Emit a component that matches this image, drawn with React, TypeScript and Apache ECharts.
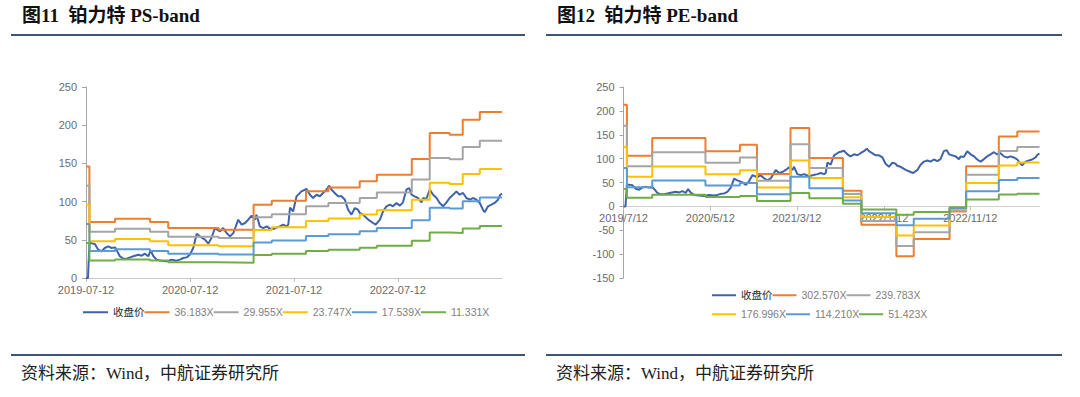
import React, { useEffect, useRef } from 'react';
import * as echarts from 'echarts';

// ---- closing price (shared by both charts) ----
const closeDates = [
  '2019-07-12','2019-07-19','2019-07-24','2019-08-12','2019-08-24','2019-09-05','2019-09-16','2019-09-28',
  '2019-10-10','2019-10-22','2019-10-28','2019-11-08','2019-11-20','2019-12-02','2019-12-14','2019-12-25',
  '2020-01-12','2020-01-24','2020-02-04','2020-02-16','2020-02-24','2020-03-05','2020-03-16','2020-04-03',
  '2020-04-20','2020-05-08','2020-05-25','2020-06-06','2020-06-18','2020-06-30','2020-07-11','2020-07-23',
  '2020-08-04','2020-08-15','2020-09-02','2020-09-14','2020-09-25','2020-10-07','2020-10-25','2020-11-05',
  '2020-11-17','2020-11-29','2020-12-11','2020-12-28','2021-01-09','2021-01-21','2021-02-01','2021-02-13',
  '2021-02-25','2021-03-02','2021-03-14','2021-03-26','2021-04-07','2021-04-18','2021-04-30','2021-05-23',
  '2021-06-04','2021-06-16','2021-06-22','2021-06-28','2021-07-09','2021-07-21','2021-08-07','2021-08-25',
  '2021-09-06','2021-09-17','2021-09-29','2021-10-11','2021-10-22','2021-11-03','2021-11-13','2021-11-21',
  '2021-12-02','2021-12-14','2021-12-26','2022-01-07','2022-01-18','2022-01-30','2022-02-11','2022-02-22',
  '2022-02-28','2022-03-12','2022-03-30','2022-04-16','2022-04-25','2022-05-10','2022-05-21','2022-06-02',
  '2022-06-14','2022-06-25','2022-07-07','2022-07-19','2022-07-30','2022-08-11','2022-08-21','2022-08-29',
  '2022-09-09','2022-09-21','2022-10-03','2022-10-09','2022-10-20','2022-11-01','2022-11-13','2022-11-25',
  '2022-12-06','2022-12-18','2022-12-30','2023-01-10','2023-01-22','2023-02-03','2023-02-14','2023-02-26',
  '2023-03-10','2023-03-22','2023-04-02','2023-04-14','2023-04-26','2023-05-07','2023-05-13','2023-05-25',
  '2023-06-06','2023-06-17','2023-06-29','2023-07-07','2023-07-13'
];
const closeValues = [
  0, 0, 46, 44.5, 37, 35, 39.3, 41.4,
  39.3, 40.1, 36.2, 28.4, 25.3, 25.3, 27, 28.4,
  30.5, 29.2, 31.8, 28.4, 36.2, 28.4, 24, 22.7,
  21.8, 24, 22.7, 24, 26.2, 27, 30.5, 39.3,
  58, 54.5, 50.2, 45, 52.4, 65.4, 61.1, 65.4,
  58.9, 54.5, 58.9, 76.3, 69.8, 72, 76.3, 81.6,
  76.3, 82.9, 67.6, 65.4, 67.6, 64.6, 64.1, 67.6,
  69.8, 67.6, 70, 92, 87.3, 106.9, 113.4, 116.5,
  109, 104.7, 109, 107, 111.3, 115.6, 120.9, 115.6,
  111.3, 107, 107, 102.5, 89.4, 82.9, 91.6, 89.4,
  85.1, 82.9, 76.4, 72, 69.8, 76.4, 87.3, 93.8,
  96, 93.8, 98.2, 94.7, 99, 115.6, 117.8, 109,
  106.9, 104.7, 99, 104.7, 103.4, 115.6, 109, 104.7,
  98.2, 93.8, 99, 104.7, 109, 113.4, 109, 111.3,
  104.7, 102.5, 104.7, 102.5, 98.2, 89.4, 86, 93.8,
  96, 98.2, 102.5, 109, 110.4
];

// ---- PS band (step values, each holds until the next date) ----
const psDates = [
  '2019-07-12','2019-07-24','2019-10-22','2020-02-22','2020-04-26','2020-10-20','2021-02-20','2021-04-25',
  '2021-08-23','2021-11-10','2022-02-28','2022-04-29','2022-08-30','2022-11-01','2023-01-10','2023-02-25',
  '2023-04-26','2023-07-13'
];
const ps36 = [146, 73.3, 77.6, 73.3, 65.4, 63.2, 95.9, 101, 113.5, 118.5, 126.5, 135.2, 155.8, 189.8, 187.6, 207.2, 217.2, 217.2];
const ps30 = [120.9, 60.7, 64.3, 60.7, 54.1, 52.3, 79.4, 83.6, 94.0, 98.1, 104.7, 111.9, 129.0, 157.1, 155.3, 171.6, 179.8, 179.8];
const ps24 = [95.8, 48.1, 50.9, 48.1, 42.9, 41.5, 62.9, 66.3, 74.5, 77.8, 83.0, 88.7, 102.3, 124.6, 123.1, 136.0, 142.6, 142.6];
const ps18 = [70.8, 35.5, 37.6, 35.5, 31.7, 30.6, 46.5, 49.0, 55.0, 57.4, 61.3, 65.5, 75.5, 92.0, 90.9, 100.4, 105.3, 105.3];
const ps11 = [45.7, 23.0, 24.3, 23.0, 20.5, 19.8, 30.0, 31.6, 35.5, 37.1, 39.6, 42.3, 48.8, 59.4, 58.8, 64.9, 68.0, 68.0];

// ---- PE band ----
const peDates = [
  '2019-07-12','2019-07-24','2019-10-21','2020-04-25','2020-08-24','2020-10-23','2021-02-18','2021-04-25',
  '2021-08-21','2021-10-25','2022-02-25','2022-04-27','2022-08-31','2022-10-28','2023-02-20','2023-04-26',
  '2023-07-13'
];
const pe303 = [212.8, 106.1, 143.1, 115.2, 129.1, 67.7, 164.0, 101.2, 32.9, -38.3, -104.5, -68.3, -10.6, 83.8, 146.5, 157.0, 157.0];
const pe240 = [168.6, 84.1, 113.4, 91.3, 102.3, 53.6, 130.0, 80.2, 26.1, -30.4, -82.8, -54.1, -8.4, 66.4, 116.1, 124.4, 124.4];
const pe177 = [124.5, 62.1, 83.7, 67.4, 75.5, 39.6, 95.9, 59.2, 19.2, -22.4, -61.1, -39.9, -6.2, 49.0, 85.7, 91.9, 91.9];
const pe114 = [80.3, 40.1, 54.0, 43.5, 48.7, 25.5, 61.9, 38.2, 12.4, -14.5, -39.4, -25.8, -4.0, 31.6, 55.3, 59.3, 59.3];
const pe51 = [36.2, 18.0, 24.3, 19.6, 21.9, 11.5, 27.9, 17.2, 5.6, -6.5, -17.8, -11.6, -1.8, 14.2, 24.9, 26.7, 26.7];

// ---- ticks / labels ----
const psTickLabels = ['2019-07-12', '2020-07-12', '2021-07-12', '2022-07-12'];
const peTickLabels = ['2019/7/12', '2020/5/12', '2021/3/12', '2022/1/12', '2022/11/12'];
const psNames = ['收盘价', '36.183X', '29.955X', '23.747X', '17.539X', '11.331X'];
const peNames = ['收盘价', '302.570X', '239.783X', '176.996X', '114.210X', '51.423X'];
const colors = ['#3F63AA', '#ED7D31', '#A5A5A5', '#FFC000', '#5B9BD5', '#70AD47'];
const startDate = '2019-07-12';
const endDate = '2023-07-13';
const psRange = [0, 250];
const peRange = [-150, 250];

const toTs = (s: string) => {
  const [y, m, d] = s.split(/[-\/]/).map(Number);
  return Date.UTC(y, m - 1, d);
};
const pairs = (dates: string[], vals: number[]) => dates.map((d, i) => [toTs(d), vals[i]]);

const SANS = '"Liberation Sans", Arial, "Noto Sans CJK SC", sans-serif';
const TITLE_FONT = '"Liberation Serif", "Noto Sans CJK SC", serif';
const AXIS_TEXT = '#6B6B6B';

const GRID_TOP = 87;
const GRID_H = 191;

export default function App() {
  const ref = useRef<HTMLDivElement>(null);
  useEffect(() => {
    if (!ref.current) return;
    const chart = echarts.init(ref.current, undefined, { renderer: 'svg' });

    const psTicks = psTickLabels.map(toTs);
    const peTicks = peTickLabels.map(toTs);
    const fmt = (ticks: number[], labels: string[]) => (v: number) => {
      let best = 0;
      ticks.forEach((t, i) => { if (Math.abs(t - v) < Math.abs(ticks[best] - v)) best = i; });
      return labels[best];
    };

    // the PE chart's date axis sits on the zero line (as in the source chart)
    const zeroOffset = -GRID_H * (0 - peRange[0]) / (peRange[1] - peRange[0]);

    const xAxisBase = (ticks: number[], labels: string[], lineColor: string) => ({
      type: 'value',
      min: toTs(startDate),
      max: toTs(endDate),
      axisLine: { show: true, onZero: false, lineStyle: { color: lineColor, width: 1 } },
      axisTick: { show: true, length: 4, customValues: ticks, lineStyle: { color: '#BFBFBF' } },
      axisLabel: {
        customValues: ticks,
        formatter: fmt(ticks, labels),
        color: AXIS_TEXT, fontSize: 11, fontFamily: SANS, margin: 6,
        showMinLabel: true, showMaxLabel: true,
      },
      splitLine: { show: false },
    });
    const yAxisBase = (range: number[]) => ({
      type: 'value', min: range[0], max: range[1], interval: 50,
      axisLine: { show: true, onZero: false, lineStyle: { color: '#A6A6A6', width: 1 } },
      axisTick: { show: true, length: 4, lineStyle: { color: '#A6A6A6' } },
      axisLabel: { color: AXIS_TEXT, fontSize: 11, fontFamily: SANS, margin: 9 },
      splitLine: { show: false },
    });

    const lineSeries = (name: string, data: any[], color: string, idx: number, step: boolean) => ({
      type: 'line', name, data, xAxisIndex: idx, yAxisIndex: idx,
      step: step ? 'end' : false,
      symbol: 'none', showSymbol: false,
      lineStyle: { color, width: 2 },
      itemStyle: { color },
      emphasis: { disabled: true },
    });

    const psVals = [ps36, ps30, ps24, ps18, ps11];
    const peVals = [pe303, pe240, pe177, pe114, pe51];

    const series: any[] = [
      lineSeries(psNames[0], pairs(closeDates, closeValues), colors[0], 0, false),
      ...psVals.map((v, i) => lineSeries(psNames[i + 1], pairs(psDates, v), colors[i + 1], 0, true)),
      lineSeries(peNames[0], pairs(closeDates, closeValues), colors[0], 1, false),
      ...peVals.map((v, i) => lineSeries(peNames[i + 1], pairs(peDates, v), colors[i + 1], 1, true)),
    ];

    const legendItem = (n: string) => n === '收盘价' ? { name: n, textStyle: { color: '#262626' } } : { name: n };
    const legendBase = {
      orient: 'horizontal', icon: 'rect', itemHeight: 2, selectedMode: false, padding: 0,
      textStyle: { fontSize: 10.5, color: '#808080', fontFamily: SANS },
    };

    const line = (x1: number, y1: number, x2: number, y2: number) => ({
      type: 'line', shape: { x1, y1, x2, y2 }, style: { stroke: '#3A5673', lineWidth: 2 }, silent: true,
    });
    const text = (t: string, x: number, y: number, font: string, fill: string) => ({
      type: 'text', x, y, silent: true,
      style: { text: t, font, fill, verticalAlign: 'middle', align: 'left' },
    });

    chart.setOption({
      animation: false,
      backgroundColor: '#ffffff',
      grid: [
        { left: 86, top: GRID_TOP, width: 416, height: GRID_H, containLabel: false },
        { left: 623.5, top: GRID_TOP, width: 416, height: GRID_H, containLabel: false },
      ],
      xAxis: [
        { ...xAxisBase(psTicks, psTickLabels, '#C8C8C8'), gridIndex: 0 },
        { ...xAxisBase(peTicks, peTickLabels, '#D0D0D0'), gridIndex: 1, position: 'bottom', offset: zeroOffset },
      ],
      yAxis: [
        { ...yAxisBase(psRange), gridIndex: 0 },
        { ...yAxisBase(peRange), gridIndex: 1 },
      ],
      legend: [
        { ...legendBase, left: 83, top: 307, itemWidth: 25, itemGap: 0, data: psNames.map(legendItem) },
        { ...legendBase, left: 712, top: 290, itemWidth: 24, itemGap: 0,
          textStyle: { ...legendBase.textStyle, width: 45 }, data: peNames.slice(0, 3).map(legendItem) },
        { ...legendBase, left: 712, top: 309, itemWidth: 24, itemGap: 0,
          textStyle: { ...legendBase.textStyle, width: 45 }, data: peNames.slice(3).map(legendItem) },
      ],
      graphic: [
        text('图11  铂力特 PS-band', 22, 15, `bold 19px ${TITLE_FONT}`, '#111111'),
        line(11, 35, 525, 35),
        line(11, 355, 525, 355),
        text('资料来源：Wind，中航证券研究所', 21, 373, `17px ${TITLE_FONT}`, '#222222'),
        text('图12  铂力特 PE-band', 557, 15, `bold 19px ${TITLE_FONT}`, '#111111'),
        line(546, 35, 1062, 35),
        line(546, 355, 1062, 355),
        text('资料来源：Wind，中航证券研究所', 556, 373, `17px ${TITLE_FONT}`, '#222222'),
      ],
      series,
    });

    return () => chart.dispose();
  }, []);

  return (
    <div
      ref={ref}
      style={{ position: 'absolute', left: 0, top: 0, width: 1080, height: 397, background: '#fff' }}
    />
  );
}
